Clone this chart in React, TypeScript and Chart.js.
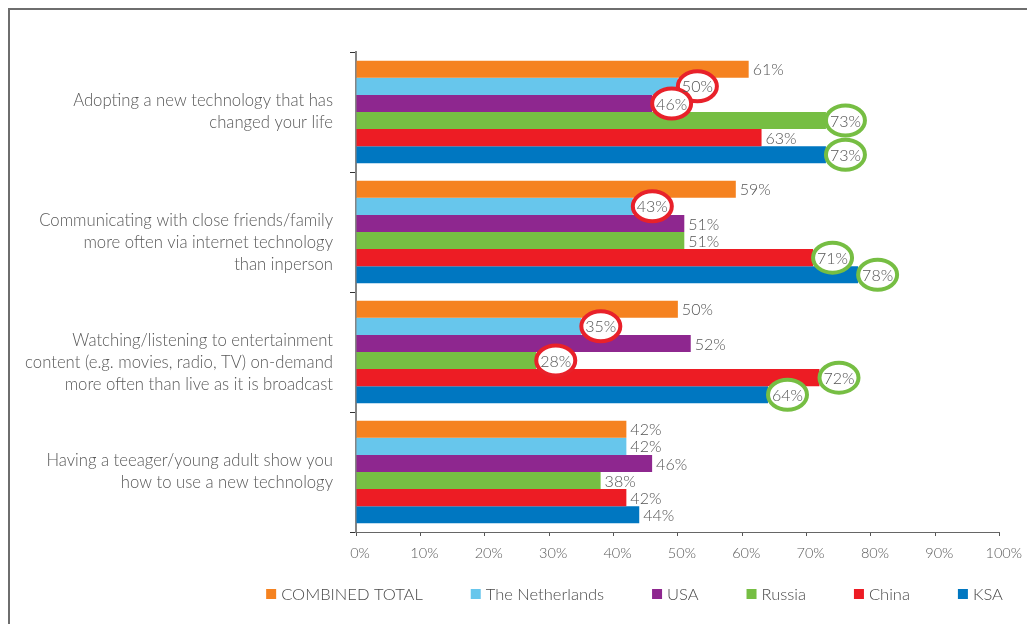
import React, { useEffect, useRef } from "react";
import { Chart, registerables } from "chart.js";

Chart.register(...registerables);

const categoryLabels: string[][] = [
  ["Adopting a new technology that has", "changed your life"],
  ["", "Communicating with close friends/family", "more often via internet technology", "than inperson"],
  ["", "Watching/listening to entertainment", "content (e.g. movies, radio, TV) on-demand", "more often than live as it is broadcast"],
  ["Having a teeager/young adult show you", "how to use a new technology"],
];

const seriesNames = ["COMBINED TOTAL", "The Netherlands", "USA", "Russia", "China", "KSA"];
const seriesColors = ["#F58220", "#67C6EC", "#8E278F", "#76BE43", "#ED1C24", "#0077C1"];

const combinedTotal = [61, 59, 50, 42];
const netherlands = [50, 43, 35, 42];
const usa = [46, 51, 52, 46];
const russia = [73, 51, 28, 38];
const china = [63, 71, 72, 42];
const ksa = [73, 78, 64, 44];

const xMin = 0;
const xMax = 100;
const xStep = 10;

// [seriesIndex, categoryIndex]
const lowMarks: [number, number][] = [[1, 0], [2, 0], [1, 1], [1, 2], [3, 2]];
const highMarks: [number, number][] = [[3, 0], [5, 0], [4, 1], [5, 1], [4, 2], [5, 2]];

const FONT = "Lato, 'Open Sans', sans-serif";

const valueLabelPlugin = {
  id: "valueLabels",
  afterDatasetsDraw(chart: any) {
    const ctx = chart.ctx;
    ctx.save();
    ctx.font = `300 16px ${FONT}`;
    const key = (s: number, c: number) => `${s}-${c}`;
    const low = new Set(lowMarks.map(([s, c]) => key(s, c)));
    const high = new Set(highMarks.map(([s, c]) => key(s, c)));
    const items: any[] = [];
    chart.data.datasets.forEach((ds: any, di: number) => {
      const meta = chart.getDatasetMeta(di);
      meta.data.forEach((bar: any, ci: number) => {
        const text = `${ds.data[ci]}%`;
        const w = ctx.measureText(text).width;
        const x = bar.x + 4;
        const y = bar.y;
        const k = key(di, ci);
        const mark = low.has(k) ? "#E8212A" : high.has(k) ? "#76BE43" : null;
        items.push({ text, w, x, y, mark });
      });
    });
    items.forEach((it) => {
      if (!it.mark) return;
      ctx.beginPath();
      ctx.ellipse(it.x + it.w / 2, it.y, 19.5, 15, 0, 0, Math.PI * 2);
      ctx.fillStyle = "#ffffff";
      ctx.fill();
      ctx.lineWidth = 4;
      ctx.strokeStyle = it.mark;
      ctx.stroke();
    });
    ctx.fillStyle = "#555555";
    ctx.textAlign = "left";
    ctx.textBaseline = "middle";
    items.forEach((it) => {
      ctx.fillText(it.text, it.x, it.y + 1);
    });
    ctx.restore();
  },
};

const legendPlugin = {
  id: "customLegend",
  afterDraw(chart: any) {
    const ctx = chart.ctx;
    const area = chart.chartArea;
    ctx.save();
    ctx.font = `300 16.5px ${FONT}`;
    const box = 10;
    const boxGap = 5;
    const gap = 48;
    const ds = chart.data.datasets;
    const widths = ds.map((d: any) => box + boxGap + ctx.measureText(d.label).width);
    const total = widths.reduce((a: number, b: number) => a + b, 0) + gap * (ds.length - 1);
    const centerX = 624.5;
    let x = centerX - total / 2;
    const y = area.bottom + 62;
    ctx.textAlign = "left";
    ctx.textBaseline = "middle";
    ds.forEach((d: any, i: number) => {
      ctx.fillStyle = d.backgroundColor;
      ctx.fillRect(x, y - box / 2, box, box);
      ctx.fillStyle = "#4a4a4a";
      ctx.fillText(d.label, x + box + boxGap, y + 1);
      x += widths[i] + gap;
    });
    ctx.restore();
  },
};

export default function App() {
  const canvasRef = useRef<HTMLCanvasElement | null>(null);

  useEffect(() => {
    if (!canvasRef.current) return;
    const seriesData = [combinedTotal, netherlands, usa, russia, china, ksa];
    const chart = new Chart(canvasRef.current, {
      type: "bar",
      data: {
        labels: categoryLabels,
        datasets: seriesNames.map((name, i) => ({
          label: name,
          data: seriesData[i],
          backgroundColor: seriesColors[i],
          borderWidth: 0,
          categoryPercentage: 0.856,
          barPercentage: 1.0,
        })),
      },
      options: {
        indexAxis: "y",
        animation: false,
        responsive: true,
        maintainAspectRatio: false,
        layout: { padding: { top: 42, right: 27, bottom: 52, left: 0 } },
        plugins: {
          legend: { display: false },
          tooltip: { enabled: false },
          title: { display: false },
        },
        scales: {
          y: {
            type: "category",
            afterFit: (scale: any) => {
              scale.width = 346;
            },
            grid: {
              display: true,
              offset: true,
              drawOnChartArea: false,
              drawTicks: true,
              tickLength: 6,
              color: "#333333",
              lineWidth: 1,
            },
            border: { display: true, color: "#858585", width: 2 },
            ticks: {
              padding: 17,
              color: "#585858",
              font: { family: FONT, size: 16.7, weight: "300", lineHeight: 1.32 },
            },
          },
          x: {
            type: "linear",
            min: xMin,
            max: xMax,
            afterFit: (scale: any) => {
              scale.height = 40;
            },
            grid: {
              display: true,
              drawOnChartArea: false,
              drawTicks: true,
              tickLength: 4,
              color: "#555555",
              lineWidth: 1,
            },
            border: { display: true, color: "#666666", width: 1 },
            ticks: {
              stepSize: xStep,
              padding: 9,
              labelOffset: 4,
              color: "#5a5a5a",
              font: { family: FONT, size: 14.5, weight: "300" },
              callback: (v: any) => `${v}%`,
            },
          },
        },
      },
      plugins: [valueLabelPlugin, legendPlugin],
    });
    return () => chart.destroy();
  }, []);

  return (
    <div
      style={{
        position: "fixed",
        left: 8,
        top: 8,
        width: 1019,
        height: 616,
        borderTop: "2px solid #6e6e6e",
        borderLeft: "2px solid #6e6e6e",
        boxSizing: "border-box",
        background: "#ffffff",
      }}
    >
      <div style={{ position: "relative", width: 1017, height: 614 }}>
        <canvas ref={canvasRef} />
      </div>
    </div>
  );
}
